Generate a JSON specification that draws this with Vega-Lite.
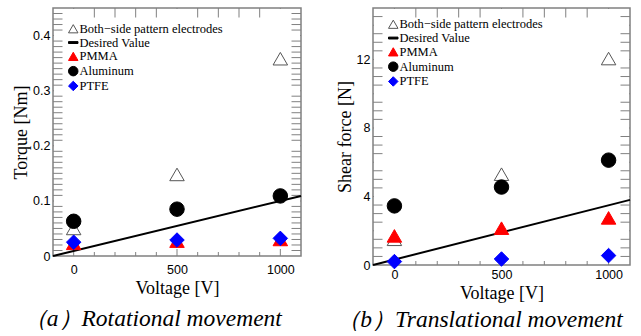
{
  "$schema": "https://vega.github.io/schema/vega-lite/v6.json",
  "padding": {"left": 11, "top": 7, "right": 5, "bottom": 2},
  "spacing": 29,
  "datasets": {
    "xticks": [
      {"V": 0, "kind": "major"}, {"V": 100, "kind": "minor"}, {"V": 200, "kind": "minor"}, {"V": 300, "kind": "minor"}, {"V": 400, "kind": "minor"},
      {"V": 500, "kind": "major"}, {"V": 600, "kind": "minor"}, {"V": 700, "kind": "minor"}, {"V": 800, "kind": "minor"}, {"V": 900, "kind": "minor"},
      {"V": 1000, "kind": "major"}
    ],
    "yticksA": [
      {"Torque": 0.01, "kind": "minor"}, {"Torque": 0.02, "kind": "minor"}, {"Torque": 0.03, "kind": "minor"}, {"Torque": 0.04, "kind": "minor"}, {"Torque": 0.05, "kind": "minor"},
      {"Torque": 0.06, "kind": "minor"}, {"Torque": 0.07, "kind": "minor"}, {"Torque": 0.08, "kind": "minor"}, {"Torque": 0.09, "kind": "minor"}, {"Torque": 0.1, "kind": "major"},
      {"Torque": 0.11, "kind": "minor"}, {"Torque": 0.12, "kind": "minor"}, {"Torque": 0.13, "kind": "minor"}, {"Torque": 0.14, "kind": "minor"}, {"Torque": 0.15, "kind": "minor"},
      {"Torque": 0.16, "kind": "minor"}, {"Torque": 0.17, "kind": "minor"}, {"Torque": 0.18, "kind": "minor"}, {"Torque": 0.19, "kind": "minor"}, {"Torque": 0.2, "kind": "major"},
      {"Torque": 0.21, "kind": "minor"}, {"Torque": 0.22, "kind": "minor"}, {"Torque": 0.23, "kind": "minor"}, {"Torque": 0.24, "kind": "minor"}, {"Torque": 0.25, "kind": "minor"},
      {"Torque": 0.26, "kind": "minor"}, {"Torque": 0.27, "kind": "minor"}, {"Torque": 0.28, "kind": "minor"}, {"Torque": 0.29, "kind": "minor"}, {"Torque": 0.3, "kind": "major"},
      {"Torque": 0.31, "kind": "minor"}, {"Torque": 0.32, "kind": "minor"}, {"Torque": 0.33, "kind": "minor"}, {"Torque": 0.34, "kind": "minor"}, {"Torque": 0.35, "kind": "minor"},
      {"Torque": 0.36, "kind": "minor"}, {"Torque": 0.37, "kind": "minor"}, {"Torque": 0.38, "kind": "minor"}, {"Torque": 0.39, "kind": "minor"}, {"Torque": 0.4, "kind": "major"},
      {"Torque": 0.41, "kind": "minor"}, {"Torque": 0.42, "kind": "minor"}, {"Torque": 0.43, "kind": "minor"}, {"Torque": 0.44, "kind": "minor"}
    ],
    "yticksB": [
      {"Force": 0.5, "kind": "minor"}, {"Force": 1, "kind": "minor"}, {"Force": 1.5, "kind": "minor"}, {"Force": 2, "kind": "major"},
      {"Force": 2.5, "kind": "minor"}, {"Force": 3, "kind": "minor"}, {"Force": 3.5, "kind": "minor"}, {"Force": 4, "kind": "major"},
      {"Force": 4.5, "kind": "minor"}, {"Force": 5, "kind": "minor"}, {"Force": 5.5, "kind": "minor"}, {"Force": 6, "kind": "major"},
      {"Force": 6.5, "kind": "minor"}, {"Force": 7, "kind": "minor"}, {"Force": 7.5, "kind": "minor"}, {"Force": 8, "kind": "major"},
      {"Force": 8.5, "kind": "minor"}, {"Force": 9, "kind": "minor"}, {"Force": 9.5, "kind": "minor"}, {"Force": 10, "kind": "major"},
      {"Force": 10.5, "kind": "minor"}, {"Force": 11, "kind": "minor"}, {"Force": 11.5, "kind": "minor"}, {"Force": 12, "kind": "major"},
      {"Force": 12.5, "kind": "minor"}, {"Force": 13, "kind": "minor"}, {"Force": 13.5, "kind": "minor"}, {"Force": 14, "kind": "major"},
      {"Force": 14.5, "kind": "minor"}
    ]
  },
  "config": {
    "view": {"stroke": "#808080", "strokeWidth": 1.5},
    "axis": {"domain": false, "ticks": false, "grid": false, "labelOverlap": false, "labelFont": "Liberation Sans", "labelFontSize": 12.5, "labelColor": "black", "titleFont": "Liberation Serif", "titleFontSize": 18, "titleFontWeight": "normal", "titleColor": "black"},
    "legend": {"orient": "none", "legendX": 14, "labelFont": "Liberation Serif", "labelFontSize": 12.5, "labelColor": "black", "symbolSize": 90, "symbolStrokeWidth": 1, "rowPadding": 0.8, "labelOffset": 0, "padding": 0},
    "title": {"font": "Liberation Serif", "fontStyle": "italic", "fontSize": 23.5, "fontWeight": "normal", "color": "black", "orient": "bottom", "anchor": "middle", "frame": "bounds"}
  },
  "resolve": {"scale": {"shape": "independent", "fill": "independent", "stroke": "independent", "size": "independent"}, "legend": {"shape": "independent", "fill": "independent", "stroke": "independent"}},
  "hconcat": [
    {
      "width": 248, "height": 248,
      "title": {"text": "（a）Rotational movement", "offset": 9, "dx": -6},
      "encoding": {
        "shape": {"field": "series", "type": "nominal", "title": null, "legend": {"legendY": 14.5}, "scale": {"domain": ["Both−side pattern electrodes", "Desired Value", "PMMA", "Aluminum", "PTFE"], "range": ["triangle-up", "M-1,-0.2H1V0.2H-1Z", "triangle-up", "circle", "diamond"]}},
        "fill": {"field": "series", "type": "nominal", "title": null, "legend": {"legendY": 14.5}, "scale": {"domain": ["Both−side pattern electrodes", "Desired Value", "PMMA", "Aluminum", "PTFE"], "range": ["transparent", "black", "red", "black", "blue"]}},
        "stroke": {"field": "series", "type": "nominal", "title": null, "legend": {"legendY": 14.5}, "scale": {"domain": ["Both−side pattern electrodes", "Desired Value", "PMMA", "Aluminum", "PTFE"], "range": ["#555555", "black", "red", "black", "blue"]}}
      },
      "layer": [
        {
          "data": {"name": "xticks"},
          "mark": {"type": "tick", "orient": "vertical", "thickness": 1, "color": "#808080", "opacity": 1, "clip": true},
          "encoding": {
            "shape": null, "fill": null, "stroke": null,
            "x": {"field": "V", "type": "quantitative", "scale": {"domain": [-100, 1100], "nice": false, "zero": false},
              "axis": {"orient": "bottom", "title": "Voltage [V]", "values": [0, 500, 1000], "format": "d", "labelOverlap": false, "labelPadding": 7, "titlePadding": 4}},
            "y": {"datum": 0, "type": "quantitative", "scale": {"domain": [0, 0.45], "nice": false},
              "axis": {"orient": "left", "title": "Torque [Nm]", "values": [0, 0.1, 0.2, 0.3, 0.4], "labelOverlap": false, "labelExpr": "datum.value === 0 ? '0' : format(datum.value, '.1f')", "labelPadding": 3, "titlePadding": 2}},
            "size": {"field": "kind", "type": "nominal", "scale": {"type": "ordinal", "domain": ["major", "minor"], "range": [14, 8]}, "legend": null}
          }
        },
        {
          "data": {"name": "xticks"},
          "mark": {"type": "tick", "orient": "vertical", "thickness": 1, "color": "#808080", "opacity": 1, "clip": true},
          "encoding": {
            "shape": null, "fill": null, "stroke": null,
            "x": {"field": "V", "type": "quantitative"},
            "y": {"datum": 0.45, "type": "quantitative"},
            "size": {"field": "kind", "type": "nominal", "legend": null}
          }
        },
        {
          "data": {"name": "yticksA"},
          "mark": {"type": "tick", "orient": "horizontal", "thickness": 1, "color": "#808080", "opacity": 1, "clip": true},
          "encoding": {
            "shape": null, "fill": null, "stroke": null,
            "x": {"datum": -100, "type": "quantitative"},
            "y": {"field": "Torque", "type": "quantitative"},
            "size": {"field": "kind", "type": "nominal", "legend": null}
          }
        },
        {
          "data": {"name": "yticksA"},
          "mark": {"type": "tick", "orient": "horizontal", "thickness": 1, "color": "#808080", "opacity": 1, "clip": true},
          "encoding": {
            "shape": null, "fill": null, "stroke": null,
            "x": {"datum": 1100, "type": "quantitative"},
            "y": {"field": "Torque", "type": "quantitative"},
            "size": {"field": "kind", "type": "nominal", "legend": null}
          }
        },
        {
          "data": {"values": [{"V": -100, "Torque": 0}, {"V": 1100, "Torque": 0.109}]},
          "mark": {"type": "line", "color": "black", "strokeWidth": 2},
          "encoding": {
            "shape": null, "fill": null, "stroke": null,
            "x": {"field": "V", "type": "quantitative"},
            "y": {"field": "Torque", "type": "quantitative"}
          }
        },
        {
          "data": {"values": [
            {"V": 0, "Torque": 0.05, "series": "Both−side pattern electrodes"},
            {"V": 500, "Torque": 0.148, "series": "Both−side pattern electrodes"},
            {"V": 1000, "Torque": 0.358, "series": "Both−side pattern electrodes"},
            {"V": 0, "Torque": 0.063, "series": "Aluminum"},
            {"V": 500, "Torque": 0.085, "series": "Aluminum"},
            {"V": 1000, "Torque": 0.109, "series": "Aluminum"},
            {"V": 0, "Torque": 0.023, "series": "PMMA"},
            {"V": 500, "Torque": 0.027, "series": "PMMA"},
            {"V": 1000, "Torque": 0.03, "series": "PMMA"},
            {"V": 0, "Torque": 0.025, "series": "PTFE"},
            {"V": 500, "Torque": 0.029, "series": "PTFE"},
            {"V": 1000, "Torque": 0.032, "series": "PTFE"}
          ]},
          "mark": {"type": "point", "opacity": 1, "size": 210, "strokeWidth": 1},
          "encoding": {
            "x": {"field": "V", "type": "quantitative"},
            "y": {"field": "Torque", "type": "quantitative"}
          }
        }
      ]
    },
    {
      "width": 257, "height": 257,
      "title": {"text": "（b）Translational movement", "offset": 5.5, "dx": -5},
      "encoding": {
        "shape": {"field": "series", "type": "nominal", "title": null, "legend": {"legendY": 10}, "scale": {"domain": ["Both−side pattern electrodes", "Desired Value", "PMMA", "Aluminum", "PTFE"], "range": ["triangle-up", "M-1,-0.2H1V0.2H-1Z", "triangle-up", "circle", "diamond"]}},
        "fill": {"field": "series", "type": "nominal", "title": null, "legend": {"legendY": 10}, "scale": {"domain": ["Both−side pattern electrodes", "Desired Value", "PMMA", "Aluminum", "PTFE"], "range": ["transparent", "black", "red", "black", "blue"]}},
        "stroke": {"field": "series", "type": "nominal", "title": null, "legend": {"legendY": 10}, "scale": {"domain": ["Both−side pattern electrodes", "Desired Value", "PMMA", "Aluminum", "PTFE"], "range": ["#555555", "black", "red", "black", "blue"]}}
      },
      "layer": [
        {
          "data": {"name": "xticks"},
          "mark": {"type": "tick", "orient": "vertical", "thickness": 1, "color": "#808080", "opacity": 1, "clip": true},
          "encoding": {
            "shape": null, "fill": null, "stroke": null,
            "x": {"field": "V", "type": "quantitative", "scale": {"domain": [-100, 1100], "nice": false, "zero": false},
              "axis": {"orient": "bottom", "title": "Voltage [V]", "values": [0, 500, 1000], "format": "d", "labelOverlap": false, "labelPadding": 3, "titlePadding": 4}},
            "y": {"datum": 0, "type": "quantitative", "scale": {"domain": [0, 15], "nice": false},
              "axis": {"orient": "left", "title": "Shear force [N]", "values": [0, 2, 4, 6, 8, 10, 12, 14], "labelExpr": "format(datum.value, 'd')", "labelOverlap": false, "labelBound": false, "labelPadding": 3, "titlePadding": 2}},
            "size": {"field": "kind", "type": "nominal", "scale": {"type": "ordinal", "domain": ["major", "minor"], "range": [14, 8]}, "legend": null}
          }
        },
        {
          "data": {"name": "xticks"},
          "mark": {"type": "tick", "orient": "vertical", "thickness": 1, "color": "#808080", "opacity": 1, "clip": true},
          "encoding": {
            "shape": null, "fill": null, "stroke": null,
            "x": {"field": "V", "type": "quantitative"},
            "y": {"datum": 15, "type": "quantitative"},
            "size": {"field": "kind", "type": "nominal", "legend": null}
          }
        },
        {
          "data": {"name": "yticksB"},
          "mark": {"type": "tick", "orient": "horizontal", "thickness": 1, "color": "#808080", "opacity": 1, "clip": true},
          "encoding": {
            "shape": null, "fill": null, "stroke": null,
            "x": {"datum": -100, "type": "quantitative"},
            "y": {"field": "Force", "type": "quantitative"},
            "size": {"field": "kind", "type": "nominal", "legend": null}
          }
        },
        {
          "data": {"name": "yticksB"},
          "mark": {"type": "tick", "orient": "horizontal", "thickness": 1, "color": "#808080", "opacity": 1, "clip": true},
          "encoding": {
            "shape": null, "fill": null, "stroke": null,
            "x": {"datum": 1100, "type": "quantitative"},
            "y": {"field": "Force", "type": "quantitative"},
            "size": {"field": "kind", "type": "nominal", "legend": null}
          }
        },
        {
          "data": {"values": [{"V": -100, "Force": 0}, {"V": 1100, "Force": 3.8}]},
          "mark": {"type": "line", "color": "black", "strokeWidth": 2},
          "encoding": {
            "shape": null, "fill": null, "stroke": null,
            "x": {"field": "V", "type": "quantitative"},
            "y": {"field": "Force", "type": "quantitative"}
          }
        },
        {
          "data": {"values": [
            {"V": 0, "Force": 1.5, "series": "Both−side pattern electrodes"},
            {"V": 500, "Force": 5.3, "series": "Both−side pattern electrodes"},
            {"V": 1000, "Force": 12.05, "series": "Both−side pattern electrodes"},
            {"V": 0, "Force": 3.45, "series": "Aluminum"},
            {"V": 500, "Force": 4.55, "series": "Aluminum"},
            {"V": 1000, "Force": 6.12, "series": "Aluminum"},
            {"V": 0, "Force": 1.7, "series": "PMMA"},
            {"V": 500, "Force": 2.15, "series": "PMMA"},
            {"V": 1000, "Force": 2.75, "series": "PMMA"},
            {"V": 0, "Force": 0.2, "series": "PTFE"},
            {"V": 500, "Force": 0.35, "series": "PTFE"},
            {"V": 1000, "Force": 0.55, "series": "PTFE"}
          ]},
          "mark": {"type": "point", "opacity": 1, "size": 210, "strokeWidth": 1},
          "encoding": {
            "x": {"field": "V", "type": "quantitative"},
            "y": {"field": "Force", "type": "quantitative"}
          }
        }
      ]
    }
  ]
}
